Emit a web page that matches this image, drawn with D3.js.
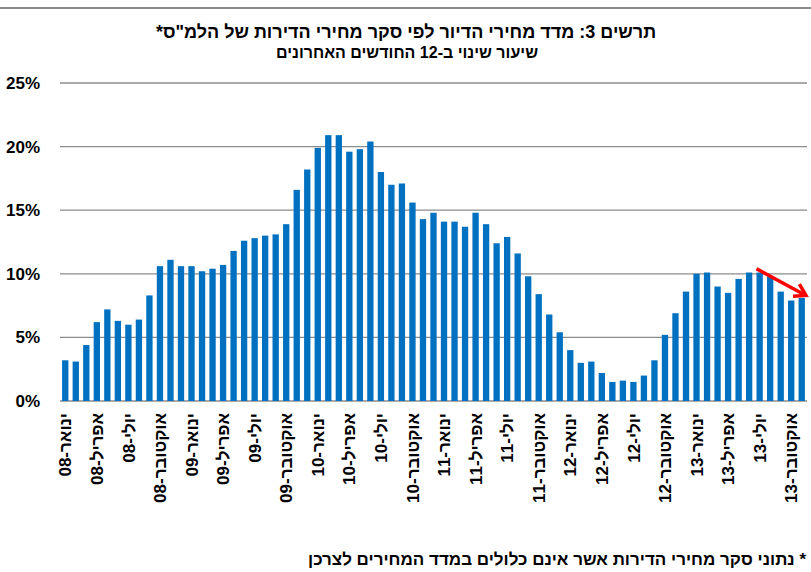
<!DOCTYPE html>
<html>
<head>
<meta charset="utf-8">
<script src="https://cdn.jsdelivr.net/npm/d3@7"></script>
<style>
  body { margin: 0; background: #fff; }
  text { font-family: Arial, "Liberation Sans", "DejaVu Sans", sans-serif; font-weight: bold; fill: #000; }
</style>
</head>
<body>
<div id="wrapper"></div>
<script>
// data: yearly change of the housing price index (%), Jan-08 .. Nov-13
const years = ["08", "09", "10", "11", "12", "13"]
const monthNames = ["ינואר", "פברואר", "מרץ", "אפריל", "מאי", "יוני", "יולי", "אוגוסט", "ספטמבר", "אוקטובר", "נובמבר", "דצמבר"]
const values = [
  3.2, 3.1, 4.4, 6.2, 7.2, 6.3, 6.0, 6.4, 8.3, 10.6, 11.1, 10.6,
  10.6, 10.2, 10.4, 10.7, 11.8, 12.6, 12.8, 13.0, 13.1, 13.9, 16.6, 18.2,
  19.9, 20.9, 20.9, 19.6, 19.8, 20.4, 18.0, 17.0, 17.1, 15.6, 14.3, 14.8,
  14.1, 14.1, 13.7, 14.8, 13.9, 12.4, 12.9, 11.6, 9.8, 8.4, 6.8, 5.4,
  4.0, 3.0, 3.1, 2.2, 1.5, 1.6, 1.5, 2.0, 3.2, 5.2, 6.9, 8.6,
  10.0, 10.1, 9.0, 8.5, 9.6, 10.1, 10.1, 9.8, 8.6, 7.9, 8.1
]
const yTicks = [0, 5, 10, 15, 20, 25]
// arrow annotation: [month index, value] start and end
const arrowFrom = [65.7, 10.4]
const arrowTo = [70.4, 8.3]

const title = 'תרשים 3: מדד מחירי הדיור לפי סקר מחירי הדירות של הלמ"ס*'
const subtitle = "שיעור שינוי ב-12 החודשים האחרונים"
const footnote = "* נתוני סקר מחירי הדירות אשר אינם כלולים במדד המחירים לצרכן"

const dataset = values.map((v, i) => ({
  i,
  label: `${monthNames[i % 12]}-${years[Math.floor(i / 12)]}`,
  value: v,
}))

const dimensions = {
  width: 811,
  height: 572,
  margin: { top: 83, right: 4, bottom: 171, left: 60 },
}
dimensions.boundedWidth = dimensions.width - dimensions.margin.left - dimensions.margin.right
dimensions.boundedHeight = dimensions.height - dimensions.margin.top - dimensions.margin.bottom

const wrapper = d3.select("#wrapper")
  .append("svg")
    .attr("width", dimensions.width)
    .attr("height", dimensions.height)
    .style("display", "block")

// frame line on top
wrapper.append("rect")
  .attr("x", 0).attr("y", 7)
  .attr("width", dimensions.width).attr("height", 2)
  .attr("fill", "#8a8a8a")

wrapper.append("text")
  .attr("x", 406).attr("y", 38)
  .attr("text-anchor", "middle")
  .attr("direction", "rtl")
  .style("font-size", "18px")
  .text(title)

wrapper.append("text")
  .attr("x", 407).attr("y", 58)
  .attr("text-anchor", "middle")
  .attr("direction", "rtl")
  .style("font-size", "16px")
  .text(subtitle)

wrapper.append("text")
  .attr("x", 806).attr("y", 565)
  .attr("text-anchor", "start")
  .attr("direction", "rtl")
  .style("font-size", "17px")
  .text(footnote)

const bounds = wrapper.append("g")
  .attr("transform", `translate(${dimensions.margin.left},${dimensions.margin.top})`)

const xScale = d3.scaleBand()
  .domain(dataset.map(d => d.i))
  .range([0, dimensions.boundedWidth])
  .paddingInner(0.4)
  .paddingOuter(0.2)

const yScale = d3.scaleLinear()
  .domain([0, 25])
  .range([dimensions.boundedHeight, 0])

// gridlines + y labels
const yAxis = bounds.append("g")
yTicks.forEach(t => {
  yAxis.append("line")
    .attr("x1", 0).attr("x2", dimensions.boundedWidth)
    .attr("y1", yScale(t)).attr("y2", yScale(t))
    .attr("stroke", "#8c8c8c")
    .attr("stroke-width", 1.3)
  yAxis.append("text")
    .attr("x", -20)
    .attr("y", yScale(t))
    .attr("dy", "0.35em")
    .attr("text-anchor", "end")
    .style("font-size", "17px")
    .text(`${t}%`)
})

// bars
bounds.append("g")
  .selectAll("rect")
  .data(dataset)
  .join("rect")
    .attr("x", d => xScale(d.i))
    .attr("width", xScale.bandwidth())
    .attr("y", d => yScale(d.value))
    .attr("height", d => yScale(0) - yScale(d.value))
    .attr("fill", "#0070c0")

// x labels every 3rd month
const xLabels = bounds.append("g")
  .attr("transform", `translate(0,${dimensions.boundedHeight + 12})`)
dataset.filter(d => d.i % 3 === 0).forEach(d => {
  const cx = xScale(d.i) + xScale.bandwidth() / 2
  xLabels.append("text")
    .attr("transform", `translate(${cx},0) rotate(-90)`)
    .attr("dy", "0.36em")
    .attr("direction", "rtl")
    .attr("text-anchor", "start")
    .style("font-size", "17px")
    .text(d.label)
})

// red arrow
const arrowX = v => xScale(0) + xScale.bandwidth() / 2 + v * xScale.step()
const [x1, y1] = [arrowX(arrowFrom[0]), yScale(arrowFrom[1])]
const [x2, y2] = [arrowX(arrowTo[0]), yScale(arrowTo[1])]
const ang = Math.atan2(y2 - y1, x2 - x1)
const head = 13
const arrow = bounds.append("g")
  .attr("stroke", "#ff0000")
  .attr("stroke-width", 3.5)
  .attr("fill", "none")
  .attr("stroke-linecap", "butt")
arrow.append("line")
  .attr("x1", x1).attr("y1", y1)
  .attr("x2", x2).attr("y2", y2)
arrow.append("path")
  .attr("d", d3.line()([
    [x2 - head * Math.cos(ang - 0.55), y2 - head * Math.sin(ang - 0.55)],
    [x2, y2],
    [x2 - head * Math.cos(ang + 0.55), y2 - head * Math.sin(ang + 0.55)],
  ]))
</script>
</body>
</html>
